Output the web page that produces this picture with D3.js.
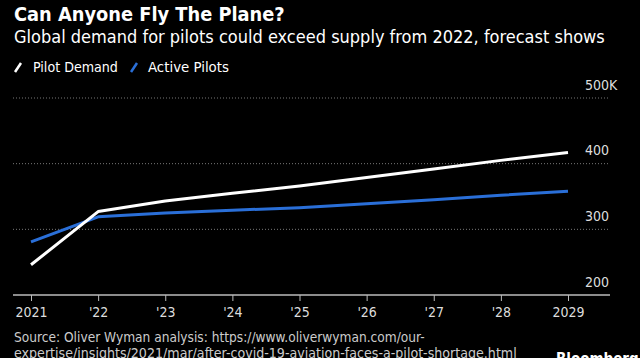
<!DOCTYPE html>
<html><head><meta charset="utf-8">
<script src="https://cdn.jsdelivr.net/npm/d3@7"></script>
<style>
html,body{margin:0;padding:0;background:#000;}
svg{display:block;}
text{font-family:"DejaVu Sans Condensed","DejaVu Sans",sans-serif;}
</style></head>
<body>
<script>
const years = [2021, 2022, 2023, 2024, 2025, 2026, 2027, 2028, 2029];
const xTickLabels = ["2021", "'22", "'23", "'24", "'25", "'26", "'27", "'28", "2029"];
const pilotDemand = [246, 327, 343, 355, 366, 379, 392, 405, 417];
const activePilots = [281, 319, 325, 329, 333, 339, 345, 352, 358];
const yTicks = [200, 300, 400, 500];
const seriesNames = ["Pilot Demand", "Active Pilots"];
const seriesColors = ["#ffffff", "#2a6fd8"];

const W = 640, H = 358;
const svg = d3.select("body").append("svg").attr("width", W).attr("height", H)
  .style("background", "#000");

const x = d3.scaleLinear().domain([2021, 2029]).range([31, 568]);
const y = d3.scaleLinear().domain([200, 500]).range([295, 98]);

// fit text to a target width by adjusting font size (keeps glyph proportions)
function fit(sel, target) {
  const w = sel.node().getComputedTextLength();
  const fs = parseFloat(sel.attr("font-size"));
  sel.attr("font-size", fs * target / w);
  return sel;
}
const SANS = "\"DejaVu Sans\",sans-serif";

// Title & subtitle
fit(svg.append("text").attr("x", 14).attr("y", 21).attr("fill", "#fff")
  .attr("font-family", SANS).attr("font-size", 17).attr("font-weight", "bold")
  .text("Can Anyone Fly The Plane?"), 271);
fit(svg.append("text").attr("x", 14).attr("y", 43).attr("fill", "#fff")
  .attr("font-family", SANS).attr("font-size", 16)
  .text("Global demand for pilots could exceed supply from 2022, forecast shows"), 591);

// Legend
const leg = svg.append("g");
const legX = [15, 131];
const legTX = [33, 148];
const legW = [85, 81];
seriesNames.forEach((n, i) => {
  leg.append("line").attr("x1", legX[i]).attr("y1", 72).attr("x2", legX[i] + 6).attr("y2", 63)
    .attr("stroke", seriesColors[i]).attr("stroke-width", 2.5);
  fit(leg.append("text").attr("x", legTX[i]).attr("y", 71.5).attr("fill", "#fff")
    .attr("font-size", 14).text(n), legW[i]);
});

// Gridlines
const grid = svg.append("g");
yTicks.filter(t => t > 200).forEach(t => {
  grid.append("line").attr("x1", 13).attr("x2", 610).attr("y1", y(t)).attr("y2", y(t))
    .attr("stroke", "#777").attr("stroke-width", 1).attr("stroke-dasharray", "1,2");
});
// Y labels
yTicks.forEach(t => {
  grid.append("text").attr("x", 609).attr("y", y(t) - 8.5).attr("text-anchor", "end")
    .attr("fill", "#ddd").attr("font-size", 14).text(t);
  if (t === 500) {
    grid.append("text").attr("x", 609).attr("y", y(t) - 8.5).attr("fill", "#ddd")
      .attr("font-size", 14).text("K");
  }
});

// X axis
const xAxis = d3.axisBottom(x).tickValues(years).tickSize(6).tickPadding(6)
  .tickFormat((d, i) => xTickLabels[i]);
const ax = svg.append("g").attr("transform", `translate(0,${y(200)})`).call(xAxis);
ax.select(".domain").remove();
ax.append("line").attr("x1", 13).attr("x2", 610).attr("y1", 0).attr("y2", 0)
  .attr("stroke", "#bbb").attr("stroke-width", 1.5);
ax.selectAll(".tick line").attr("stroke", "#bbb").attr("stroke-width", 1);
ax.selectAll(".tick text").attr("fill", "#ddd").attr("font-size", 14)
  .attr("font-family", "\"DejaVu Sans Condensed\",\"DejaVu Sans\",sans-serif");

// Lines
const line = d3.line().x((d, i) => x(years[i])).y(d => y(d));
[activePilots, pilotDemand].forEach((s, k) => {
  const ci = k === 0 ? 1 : 0;
  svg.append("path").datum(s).attr("d", line).attr("fill", "none")
    .attr("stroke", seriesColors[ci]).attr("stroke-width", 3).attr("stroke-linejoin", "round");
});

// Source
fit(svg.append("text").attr("x", 14).attr("y", 342).attr("fill", "#ccc").attr("font-size", 13)
  .text("Source: Oliver Wyman analysis: https://www.oliverwyman.com/our-"), 411);
fit(svg.append("text").attr("x", 14).attr("y", 358).attr("fill", "#ccc").attr("font-size", 13)
  .text("expertise/insights/2021/mar/after-covid-19-aviation-faces-a-pilot-shortage.html"), 503);
svg.append("text").attr("x", 556).attr("y", 364).attr("fill", "#fff").attr("font-size", 15)
  .attr("font-weight", "bold").text("Bloomberg");
</script>
</body></html>
